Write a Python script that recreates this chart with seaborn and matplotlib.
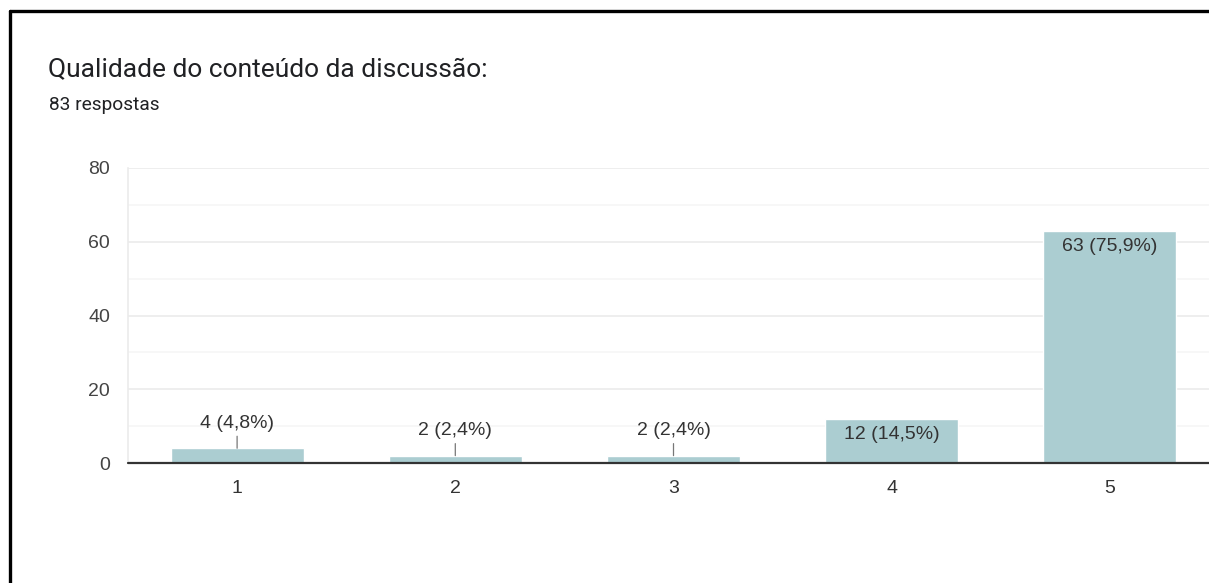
import matplotlib
matplotlib.use("Agg")
import matplotlib.pyplot as plt
from matplotlib.lines import Line2D
import seaborn as sns
import pandas as pd

# data
categories = ["1", "2", "3", "4", "5"]
counts = [4, 2, 2, 12, 63]
percent_labels = ["4,8%", "2,4%", "2,4%", "14,5%", "75,9%"]
title = "Qualidade do conteúdo da discussão:"
subtitle = "83 respostas"

bar_color = "#abcdd1"
text_color = "#333333"

sns.set_style("white")
plt.rcParams["font.family"] = ["Liberation Sans", "DejaVu Sans"]

W, H = 1209, 583
fig = plt.figure(figsize=(W / 100, H / 100), dpi=100)

# axes: left 128 px, category step 217.5 px, y 0 at 463 px, 80 at 168 px
ax = fig.add_axes([128 / W, (H - 463) / H, 1091 / W, 295 / H])

df = pd.DataFrame({"nota": categories, "respostas": counts})
sns.barplot(data=df, x="nota", y="respostas", color=bar_color, width=0.61,
            saturation=1, ax=ax, zorder=3)

ax.set_xlim(-0.5, 4.5)
ax.set_ylim(0, 80)
ax.set_yticks([0, 20, 40, 60, 80])
ax.set_yticks([10, 30, 50, 70], minor=True)
ax.grid(axis="y", which="major", color="#ebebeb", lw=1.2, zorder=0)
ax.grid(axis="y", which="minor", color="#f6f6f6", lw=1.2, zorder=0)
ax.tick_params(axis="y", which="both", length=0, pad=13, labelsize=14,
               labelcolor="#444444")
ax.tick_params(axis="x", length=0, pad=12.5, labelsize=14, labelcolor="#333333")
ax.set_xlabel("")
ax.set_ylabel("")
for s in ["top", "right", "bottom"]:
    ax.spines[s].set_visible(False)
ax.spines["left"].set_color("#ebebeb")
ax.spines["left"].set_linewidth(1.2)
ax.axhline(0, color="#333333", lw=1.6, zorder=4, clip_on=False)

# value labels: above with leader line for short bars, inside for tall bars
for i, (c, p) in enumerate(zip(counts, percent_labels)):
    label = f"{c} ({p})"
    if c >= 10:
        ax.annotate(label, xy=(i, c), xytext=(0, -5), textcoords="offset points",
                    ha="center", va="top", fontsize=14, color=text_color, zorder=5)
    else:
        ax.annotate(label, xy=(i, c), xytext=(0, 12), textcoords="offset points",
                    ha="center", va="bottom", fontsize=14, color=text_color,
                    zorder=5,
                    arrowprops=dict(arrowstyle="-", color="#777777", lw=0.9,
                                    shrinkA=1, shrinkB=0))

fig.text(48 / W, 1 - 70 / H, title, fontsize=19, color="#202124",
         family=["Roboto", "DejaVu Sans"], va="center", ha="left")
fig.text(49 / W, 1 - 105 / H, subtitle, fontsize=13.8, color="#202124",
         family=["Roboto", "DejaVu Sans"], va="center", ha="left")

# black frame of the screenshot (left and top edges)
fig.add_artist(Line2D([9.5 / W, 9.5 / W], [0, 1 - 11 / H], color="black", lw=2.4,
                      transform=fig.transFigure))
fig.add_artist(Line2D([9.5 / W, 1], [1 - 11 / H, 1 - 11 / H], color="black", lw=2.4,
                      transform=fig.transFigure))

fig.savefig("out.png", dpi=100, facecolor="white")
